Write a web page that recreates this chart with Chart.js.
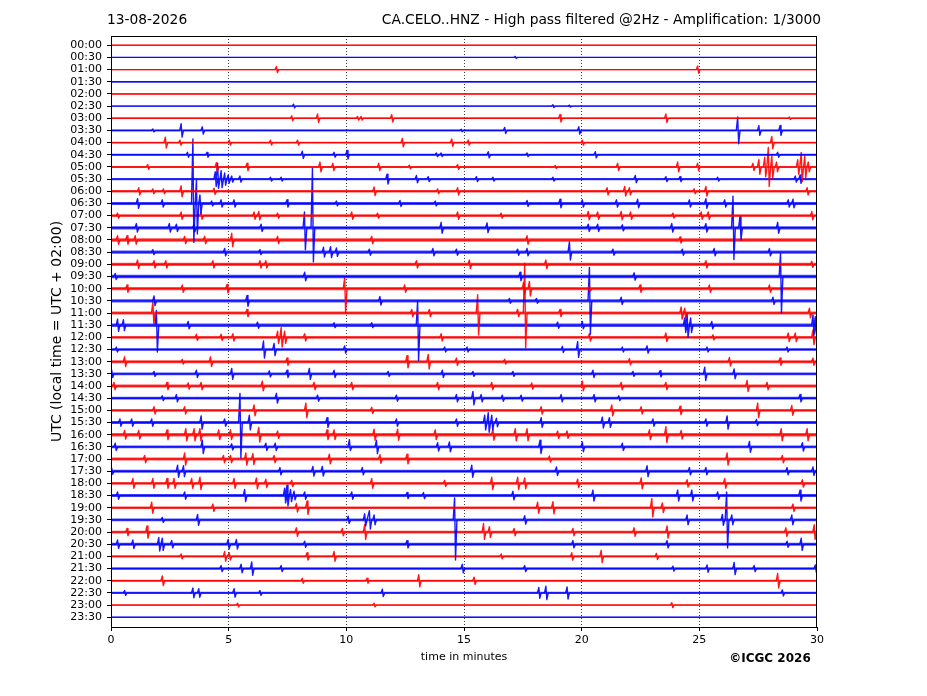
<!DOCTYPE html>
<html>
<head>
<meta charset="utf-8">
<title>CA.CELO..HNZ helicorder</title>
<script src="https://cdn.jsdelivr.net/npm/chart.js@4.4.0/dist/chart.umd.min.js"></script>
<style>
    html, body { margin: 0; padding: 0; background: #fff; }
    canvas { display: block; }
</style>
</head>
<body>
<canvas id="helicorder" width="927" height="696"></canvas>
<script>
// one trace per half hour, labels as printed on the left axis
const rowLabels = [
    '00:00', '00:30', '01:00', '01:30', '02:00', '02:30', '03:00', '03:30',
    '04:00', '04:30', '05:00', '05:30', '06:00', '06:30', '07:00', '07:30',
    '08:00', '08:30', '09:00', '09:30', '10:00', '10:30', '11:00', '11:30',
    '12:00', '12:30', '13:00', '13:30', '14:00', '14:30', '15:00', '15:30',
    '16:00', '16:30', '17:00', '17:30', '18:00', '18:30', '19:00', '19:30',
    '20:00', '20:30', '21:00', '21:30', '22:00', '22:30', '23:00', '23:30'
];

const minuteTicks = [0, 5, 10, 15, 20, 25, 30];

// background noise of each trace (half amplitude, in trace spacings)
const noiseLevel = [
    0.02, 0.03, 0.05, 0.06, 0.05, 0.05, 0.06, 0.07,
    0.08, 0.08, 0.08, 0.10, 0.10, 0.12, 0.12, 0.13,
    0.15, 0.13, 0.13, 0.14, 0.14, 0.13, 0.13, 0.14,
    0.12, 0.11, 0.12, 0.11, 0.12, 0.11, 0.12, 0.13,
    0.14, 0.12, 0.12, 0.12, 0.12, 0.12, 0.11, 0.11,
    0.11, 0.12, 0.09, 0.10, 0.08, 0.09, 0.06, 0.03
];

// events per trace: [minute, peak up, peak down (optional)] in trace spacings
const events = [
    [],
    [[17.2, 0.08]],
    [[7.05, 0.25], [24.95, 0.3]],
    [],
    [],
    [[7.78, 0.15], [18.8, 0.12], [19.5, 0.08]],
    [[7.7, 0.2], [8.8, 0.35], [10.5, 0.15], [10.65, 0.15], [11.95, 0.3], [19.1, 0.3], [23.6, 0.35], [28.85, 0.1]],
    [[1.8, 0.12], [3.0, 0.55], [3.9, 0.3], [14.9, 0.1], [16.75, 0.25], [19.9, 0.3], [26.65, 1.1], [27.55, 0.4], [28.45, 0.4]],
    [[2.33, 0.45], [2.95, 0.2], [5.05, 0.2], [6.8, 0.2], [7.95, 0.2], [12.4, 0.35], [14.5, 0.3], [15.2, 0.2], [20.05, 0.2], [28.1, 0.5]],
    [[3.27, 0.2], [4.1, 0.2], [8.15, 0.3], [9.5, 0.2], [10.05, 0.35], [13.85, 0.15], [14.05, 0.15], [16.05, 0.25], [17.7, 0.15], [20.6, 0.25], [28.35, 0.2]],
    [[1.58, 0.2], [4.5, 0.35], [5.8, 0.3], [8.9, 0.4], [9.45, 0.3], [11.4, 0.3], [12.7, 0.15], [14.75, 0.2], [18.9, 0.12], [21.55, 0.3], [24.1, 0.4], [24.95, 0.3],
     [27.3, 0.3], [27.55, 0.6], [27.8, 0.8], [27.95, 1.6], [28.1, 0.9], [28.3, 0.4], [29.2, 0.6], [29.35, 1.2], [29.5, 0.9], [29.65, 0.4]],
    [[4.45, 0.6], [4.55, 1.3, 0.75], [4.7, 0.7], [4.85, 0.5], [5.0, 0.35], [5.15, 0.25], [5.5, 0.25], [6.8, 0.15], [7.25, 0.15], [11.75, 0.4], [13.0, 0.3], [13.5, 0.2],
     [15.55, 0.2], [16.25, 0.15], [18.8, 0.15], [22.3, 0.3], [23.6, 0.2], [24.2, 0.2], [25.8, 0.15], [29.1, 0.25], [29.3, 0.35]],
    [[1.2, 0.3], [1.8, 0.2], [2.25, 0.2], [3.0, 0.45], [4.4, 0.25], [11.2, 0.35], [13.9, 0.2], [14.75, 0.3], [21.1, 0.3], [21.85, 0.4], [22.05, 0.3], [24.8, 0.2], [25.3, 0.4], [29.6, 0.3]],
    [[1.15, 0.4], [2.2, 0.3], [3.5, 5.3, 3.2], [3.65, 1.9, 2.5], [3.8, 0.7, 0.8], [4.3, 0.2], [4.7, 0.3], [5.25, 0.3], [7.5, 0.3], [9.6, 0.2], [12.3, 0.25], [13.8, 0.2],
     [17.7, 0.25], [19.1, 0.35], [20.05, 0.3], [21.5, 0.3], [22.4, 0.35], [24.6, 0.3], [25.3, 0.4], [26.1, 0.3], [28.8, 0.3], [29.0, 0.35]],
    [[0.3, 0.2], [3.0, 0.3], [3.85, 0.3], [6.1, 0.3], [6.3, 0.35], [7.1, 0.2], [10.25, 0.3], [11.35, 0.2], [14.75, 0.3], [16.6, 0.2], [20.3, 0.35], [20.7, 0.3],
     [21.7, 0.35], [22.1, 0.3], [23.9, 0.2], [25.1, 0.3], [25.4, 0.3], [29.8, 0.35]],
    [[1.1, 0.35], [2.5, 0.35], [2.8, 0.3], [3.55, 0.3], [6.4, 0.3], [8.24, 1.3, 1.8], [8.58, 4.9, 2.8], [14.05, 0.45], [16.0, 0.4], [20.3, 0.3], [20.7, 0.3],
     [21.75, 0.25], [23.85, 0.35], [25.3, 0.35], [26.45, 2.6], [26.75, 1.0], [28.35, 0.45]],
    [[0.3, 0.35], [0.7, 0.35], [1.05, 0.35], [3.15, 0.3], [4.0, 0.3], [5.15, 0.55], [7.1, 0.3], [11.1, 0.3], [17.7, 0.35], [24.2, 0.25]],
    [[1.8, 0.2], [4.85, 0.3], [6.35, 0.2], [9.05, 0.4], [9.35, 0.45], [9.6, 0.35], [11.0, 0.25], [13.7, 0.3], [14.7, 0.25], [17.3, 0.25], [17.7, 0.3], [19.5, 0.85, 0.65],
     [21.35, 0.25], [24.3, 0.25], [25.65, 0.3], [28.0, 0.3]],
    [[1.15, 0.35], [1.85, 0.3], [2.35, 0.3], [4.35, 0.3], [6.35, 0.3], [6.6, 0.3], [13.0, 0.3], [15.25, 0.35], [18.5, 0.35], [25.3, 0.3], [29.8, 0.25]],
    [[0.2, 0.25], [8.25, 0.35], [17.4, 0.35], [22.25, 0.3], [28.47, 1.9, 3.0]],
    [[0.7, 0.3], [3.05, 0.3], [4.95, 0.35], [9.95, 0.9, 2.0], [12.5, 0.3], [17.55, 0.5], [17.8, 0.6], [20.35, 0.2], [22.5, 0.3], [25.45, 0.3], [28.0, 0.3]],
    [[1.85, 0.4], [5.8, 0.45], [11.45, 0.35], [16.95, 0.2], [18.1, 0.2], [20.35, 2.75], [21.7, 0.3], [28.15, 0.3]],
    [[1.8, 0.9, 0.85], [5.8, 0.3], [12.8, 0.3], [13.55, 0.3], [15.6, 1.5, 1.8], [17.3, 0.3], [17.6, 4.1, 2.9], [19.1, 0.3], [24.25, 0.5], [24.4, 0.4], [29.7, 0.4]],
    [[0.3, 0.5], [0.55, 0.45], [1.95, 1.2, 2.2], [3.3, 0.3], [6.25, 0.25], [9.5, 0.2], [11.1, 0.2], [13.05, 2.0, 2.9], [19.0, 0.25], [20.05, 0.3], [24.4, 0.6], [24.5, 1.0],
     [24.65, 0.6], [25.55, 0.3], [29.85, 0.85], [29.95, 0.7]],
    [[3.65, 0.25], [4.7, 0.25], [5.2, 0.3], [7.1, 0.5], [7.25, 0.8], [7.4, 0.5], [8.25, 0.3], [14.05, 0.3], [20.35, 0.3], [23.6, 0.35], [25.6, 0.2], [28.8, 0.35], [29.1, 0.35], [29.85, 0.6]],
    [[0.25, 0.2], [6.5, 0.7], [6.95, 0.5], [9.95, 0.3], [14.2, 0.2], [15.15, 0.2], [19.2, 0.25], [19.85, 0.65], [21.75, 0.2], [22.8, 0.3], [25.35, 0.2], [28.75, 0.2]],
    [[0.6, 0.4], [3.05, 0.2], [4.25, 0.4], [7.5, 0.3], [12.6, 0.5], [13.5, 0.6], [14.7, 0.3], [16.75, 0.2], [22.05, 0.25], [26.3, 0.35], [28.45, 0.3], [29.85, 0.3]],
    [[0.05, 0.3], [1.85, 0.2], [3.65, 0.3], [5.15, 0.45], [6.75, 0.25], [7.5, 0.3], [8.45, 0.45], [9.5, 0.3], [11.8, 0.2], [14.1, 0.3], [15.4, 0.2], [17.1, 0.2],
     [20.5, 0.3], [22.2, 0.2], [23.35, 0.25], [25.25, 0.55], [26.5, 0.4]],
    [[0.15, 0.3], [2.4, 0.3], [3.3, 0.25], [3.85, 0.3], [6.45, 0.4], [8.65, 0.3], [10.25, 0.3], [13.9, 0.3], [16.2, 0.3], [17.9, 0.25], [20.05, 0.4], [21.7, 0.3],
     [23.6, 0.3], [27.05, 0.45], [27.9, 0.3]],
    [[2.2, 0.2], [2.8, 0.3], [7.05, 0.4], [8.8, 0.25], [12.15, 0.25], [14.7, 0.3], [15.4, 0.55], [15.75, 0.3], [16.65, 0.25], [17.45, 0.25], [19.15, 0.3], [20.55, 0.3],
     [21.6, 0.2], [29.3, 0.3]],
    [[1.85, 0.3], [3.15, 0.3], [6.1, 0.45], [8.3, 0.6], [11.1, 0.25], [18.3, 0.3], [21.3, 0.45], [22.55, 0.3], [24.2, 0.35], [27.5, 0.6], [28.95, 0.4]],
    [[0.4, 0.3], [0.9, 0.3], [1.75, 0.3], [3.85, 0.55], [4.85, 0.3], [5.5, 2.4, 2.9], [5.9, 0.6], [9.2, 0.4], [12.15, 0.3], [14.7, 0.3], [15.9, 0.6], [16.05, 0.8],
     [16.2, 0.6], [16.4, 0.35], [18.3, 0.4], [20.9, 0.45], [21.2, 0.4], [23.05, 0.3], [25.3, 0.3], [26.2, 0.55], [27.45, 0.25]],
    [[0.6, 0.35], [1.2, 0.35], [2.4, 0.4], [3.2, 0.5], [3.55, 0.5], [3.8, 0.5], [4.6, 0.4], [5.1, 0.4], [6.3, 0.6], [7.1, 0.3], [9.2, 0.4], [9.5, 0.4], [11.2, 0.45],
     [12.2, 0.45], [13.8, 0.4], [16.25, 0.45], [17.2, 0.5], [17.7, 0.5], [19.0, 0.3], [19.4, 0.3], [22.9, 0.4], [23.6, 0.65], [24.25, 0.35], [28.5, 0.5], [29.6, 0.5]],
    [[0.2, 0.3], [3.9, 0.55], [5.15, 0.25], [6.6, 0.3], [7.0, 0.3], [10.15, 0.6, 0.3], [11.3, 0.55], [13.9, 0.35], [14.4, 0.4], [18.25, 0.55], [20.05, 0.4], [21.75, 0.3],
     [27.15, 0.45], [29.4, 0.35]],
    [[1.45, 0.3], [3.15, 0.5], [4.8, 0.3], [5.1, 0.3], [5.75, 0.5], [6.05, 0.45], [6.95, 0.3], [9.3, 0.4], [11.45, 0.35], [12.6, 0.4], [18.65, 0.25], [26.2, 0.5], [28.55, 0.3]],
    [[0.05, 0.25], [2.85, 0.5], [3.1, 0.45], [7.2, 0.3], [8.6, 0.4], [9.0, 0.4], [10.7, 0.3], [15.35, 0.5], [18.95, 0.35], [22.8, 0.45], [24.6, 0.3], [25.3, 0.3],
     [28.75, 0.3], [29.85, 0.35]],
    [[0.95, 0.4], [1.8, 0.4], [2.4, 0.4], [2.7, 0.4], [3.45, 0.4], [3.8, 0.5], [5.25, 0.4], [6.2, 0.45], [6.6, 0.35], [7.7, 0.25], [11.1, 0.4], [14.2, 0.25], [16.2, 0.5],
     [17.3, 0.5], [17.6, 0.45], [19.85, 0.35], [22.55, 0.45], [24.5, 0.3], [26.1, 0.4], [29.4, 0.3]],
    [[0.3, 0.3], [3.15, 0.3], [5.7, 0.5], [7.4, 0.6], [7.5, 0.85], [7.65, 0.5], [7.8, 0.35], [8.25, 0.3], [10.25, 0.3], [12.6, 0.25], [13.3, 0.25], [17.1, 0.35],
     [20.5, 0.45], [24.1, 0.45], [24.7, 0.45], [25.8, 0.3], [29.3, 0.45]],
    [[1.75, 0.45], [4.35, 0.3], [7.9, 0.35], [8.35, 0.55], [18.15, 0.45], [18.8, 0.5], [23.0, 0.75], [23.45, 0.4], [29.0, 0.3]],
    [[2.2, 0.2], [3.7, 0.45], [10.1, 0.3], [10.8, 0.5], [11.0, 0.75], [11.2, 0.4], [14.62, 1.8, 3.3], [17.6, 0.35], [24.5, 0.4], [26.0, 0.45], [26.18, 2.3], [26.4, 0.4], [28.95, 0.4]],
    [[0.7, 0.3], [1.55, 0.5], [7.9, 0.35], [9.85, 0.3], [10.8, 0.6], [15.85, 0.7, 0.6], [16.1, 0.45], [17.15, 0.3], [19.65, 0.3], [22.25, 0.35], [23.65, 0.5], [28.7, 0.35], [29.9, 0.6]],
    [[0.3, 0.35], [0.95, 0.35], [2.05, 0.55], [2.2, 0.5], [2.6, 0.3], [5.0, 0.4], [5.35, 0.4], [8.25, 0.25], [12.6, 0.3], [19.65, 0.3], [23.65, 0.3], [28.75, 0.25], [29.35, 0.5]],
    [[3.0, 0.2], [4.85, 0.4], [5.05, 0.3], [8.35, 0.3], [9.5, 0.4], [16.6, 0.2], [19.6, 0.3], [20.85, 0.5], [23.2, 0.25]],
    [[4.7, 0.25], [5.55, 0.35], [6.0, 0.55], [7.25, 0.25], [14.95, 0.35], [17.6, 0.25], [23.9, 0.2], [25.35, 0.3], [26.5, 0.5], [27.35, 0.25], [29.95, 0.3]],
    [[2.2, 0.4], [8.15, 0.2], [10.9, 0.2], [13.1, 0.5], [15.45, 0.3], [28.35, 0.6]],
    [[0.6, 0.2], [3.5, 0.4], [3.75, 0.35], [5.25, 0.35], [6.35, 0.2], [11.55, 0.3], [18.2, 0.45], [18.5, 0.55], [19.4, 0.5], [28.55, 0.25]],
    [[5.4, 0.15], [11.2, 0.15], [23.85, 0.2]],
    []
];

const bandColors = ['rgba(255, 0, 0, 0.7)', 'rgba(0, 0, 255, 0.7)'];
const spikeColors = ['rgba(255, 0, 0, 0.9)', 'rgba(0, 0, 255, 0.9)'];
const fontFamily = '"DejaVu Sans", sans-serif';

// a spike is a short up/down stroke around the trace baseline
function buildSpikes(row) {
    const pts = [{ x: 0, y: row }];
    const sorted = events[row].slice().sort((a, b) => a[0] - b[0]);
    sorted.forEach(([t, up, down]) => {
        const dn = down === undefined ? up : down;
        pts.push({ x: t - 0.08, y: row });
        pts.push({ x: t - 0.02, y: row - up });
        pts.push({ x: t + 0.02, y: row + dn });
        pts.push({ x: t + 0.08, y: row });
    });
    pts.push({ x: 30, y: row });
    return pts;
}

const datasets = [];
rowLabels.forEach((label, i) => {
    // noise band: the trace baseline, as thick as its background noise
    datasets.push({
        label: label + ' noise',
        data: [{ x: 0, y: i }, { x: 30, y: i }],
        borderColor: bandColors[i % 2],
        borderWidth: (ctx) => {
            const y = ctx.chart.scales.y;
            if (!y) return 1;
            const rowPx = Math.abs(y.getPixelForValue(1) - y.getPixelForValue(0));
            return Math.max(0.9, 2 * noiseLevel[i] * rowPx);
        },
        pointRadius: 0,
        fill: false,
    });
    datasets.push({
        label: label,
        data: buildSpikes(i),
        borderColor: spikeColors[i % 2],
        borderWidth: 1.4,
        borderJoinStyle: 'round',
        pointRadius: 0,
        tension: 0,
        fill: false,
    });
});

const frameAndText = {
    id: 'frameAndText',
    afterDraw(chart) {
        const { ctx, chartArea } = chart;
        ctx.save();
        ctx.strokeStyle = '#000';
        ctx.lineWidth = 1;
        ctx.strokeRect(chartArea.left + 0.5, chartArea.top + 0.5,
            chartArea.right - chartArea.left - 1, chartArea.bottom - chartArea.top);

        ctx.fillStyle = '#000';
        ctx.textBaseline = 'middle';
        ctx.font = '13.8px ' + fontFamily;
        ctx.textAlign = 'left';
        ctx.fillText('13-08-2026', 107, 20);
        ctx.textAlign = 'right';
        ctx.fillText('CA.CELO..HNZ - High pass filtered @2Hz - Amplification: 1/3000', 821, 20);

        ctx.textAlign = 'center';
        ctx.font = '11px ' + fontFamily;
        ctx.fillText('time in minutes', (chartArea.left + chartArea.right) / 2, 657);
        ctx.font = 'bold 12px ' + fontFamily;
        ctx.fillText('©ICGC 2026', 770, 659);

        ctx.translate(57, (chartArea.top + chartArea.bottom) / 2);
        ctx.rotate(-Math.PI / 2);
        ctx.font = '14px ' + fontFamily;
        ctx.fillText('UTC (local time = UTC + 02:00)', 0, 0);
        ctx.restore();
    }
};

new Chart(document.getElementById('helicorder'), {
    type: 'line',
    data: { datasets: datasets },
    options: {
        responsive: false,
        devicePixelRatio: 1,
        animation: false,
        events: [],
        layout: { padding: { left: 0, top: 36, right: 110, bottom: 0 } },
        plugins: {
            legend: { display: false },
            tooltip: { enabled: false },
            title: { display: false },
        },
        scales: {
            x: {
                type: 'linear',
                min: 0,
                max: 30,
                afterBuildTicks: (scale) => { scale.ticks = minuteTicks.map(v => ({ value: v })); },
                afterFit: (scale) => { scale.height = 69; },
                ticks: {
                    color: '#000',
                    font: { family: fontFamily, size: 11 },
                    padding: 3,
                    maxRotation: 0,
                    autoSkip: false,
                },
                grid: {
                    color: (ctx) => (ctx.tick && (ctx.tick.value === 0 || ctx.tick.value === 30)) ? 'rgba(0,0,0,0)' : 'rgba(0,0,0,0.75)',
                    lineWidth: 1,
                    tickColor: '#000',
                    tickLength: 4,
                    drawOnChartArea: true,
                },
                border: { display: false, dash: [1, 2] },
            },
            y: {
                type: 'linear',
                reverse: true,
                min: -0.76,
                max: 47.8,
                afterBuildTicks: (scale) => { scale.ticks = rowLabels.map((_, i) => ({ value: i })); },
                afterFit: (scale) => { scale.width = 111; },
                ticks: {
                    color: '#000',
                    font: { family: fontFamily, size: 11 },
                    padding: 5,
                    autoSkip: false,
                    callback: (value) => rowLabels[value],
                },
                grid: {
                    drawOnChartArea: false,
                    tickColor: '#000',
                    tickLength: 4,
                },
                border: { display: false },
            },
        },
    },
    plugins: [frameAndText],
});
</script>
</body>
</html>
